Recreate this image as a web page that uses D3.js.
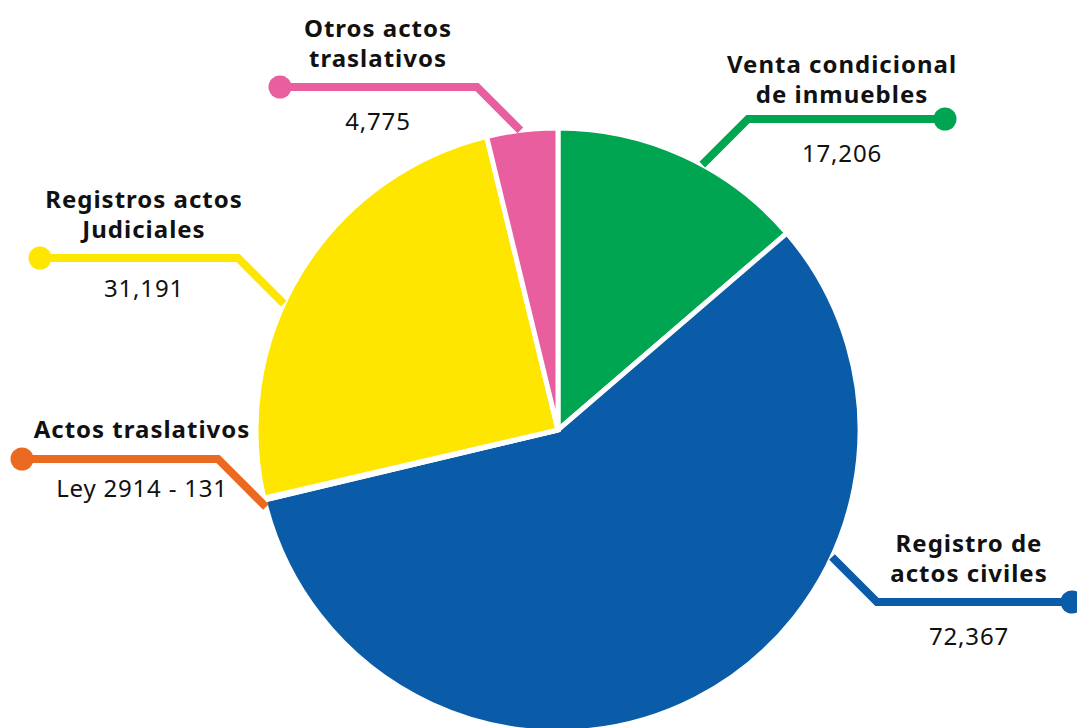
<!DOCTYPE html>
<html>
<head>
<meta charset="utf-8">
<script src="https://cdn.jsdelivr.net/npm/d3@7/dist/d3.min.js"></script>
<style>
  html, body { margin: 0; padding: 0; background: #ffffff; }
  svg { display: block; }
  text { font-family: "Noto Sans", "Open Sans", sans-serif; fill: #111111; }
</style>
</head>
<body>
<svg id="chart" width="1077" height="728"></svg>
<script>
// ---- data ----
const categories = [
  "Venta condicional de inmuebles",
  "Registro de actos civiles",
  "Actos traslativos Ley 2914",
  "Registros actos Judiciales",
  "Otros actos traslativos"
];
const values = [17206, 72367, 131, 31191, 4775];
const titleLines = [
  ["Venta condicional", "de inmuebles"],
  ["Registro de", "actos civiles"],
  ["Actos traslativos"],
  ["Registros actos", "Judiciales"],
  ["Otros actos", "traslativos"]
];
const valueLabels = ["17,206", "72,367", "Ley 2914 - 131", "31,191", "4,775"];
const colors = ["#00a551", "#0a5ba8", "#ea6a22", "#ffe600", "#e95e9f"];

// ---- layout (positions / styles only) ----
const W = 1077, H = 728;
const cx = 558, cy = 430, R = 302;
// leader: dot position, elbow position; label block centre x, title baseline, value baseline
const layout = [
  { dot: [945, 119], elbow: [748, 119], dir: [-1, 1], lx: 842, ty: 73, vy: 162 },
  { dot: [1072, 602], elbow: [877, 602], dir: [-1, -1], lx: 969, ty: 552, vy: 645 },
  { dot: [22, 459], elbow: [218, 459], dir: [1, 1], lx: 142, ty: 438, vy: 497 },
  { dot: [40, 258], elbow: [238, 258], dir: [1, 1], lx: 144, ty: 208, vy: 297 },
  { dot: [280, 87], elbow: [477, 87], dir: [1, 1], lx: 378, ty: 37, vy: 130 }
];

const svg = d3.select("#chart");
const g = svg.append("g").attr("transform", `translate(${cx},${cy})`);

const pie = d3.pie().sort(null).value(d => d)(values);
const arc = d3.arc().innerRadius(0).outerRadius(R);

g.selectAll("path.slice")
  .data(pie)
  .join("path")
  .attr("class", "slice")
  .attr("d", arc)
  .attr("fill", (d, i) => colors[i])
  .attr("stroke", "#ffffff")
  .attr("stroke-width", 5)
  .attr("stroke-linejoin", "miter");

// leader lines: from dot, to elbow, then 45° diagonal until the pie edge
function edgePoint(elbow, dir) {
  const ex = elbow[0] - cx, ey = elbow[1] - cy;
  const dx = dir[0], dy = dir[1];
  const a = dx * dx + dy * dy;
  const b = 2 * (ex * dx + ey * dy);
  const c = ex * ex + ey * ey - R * R;
  const t = (-b - Math.sqrt(b * b - 4 * a * c)) / (2 * a);
  return [elbow[0] + t * dx, elbow[1] + t * dy];
}

const leaders = svg.append("g");
layout.forEach((L, i) => {
  const end = edgePoint(L.elbow, L.dir);
  leaders.append("path")
    .attr("d", d3.line()([L.dot, L.elbow, end]))
    .attr("fill", "none")
    .attr("stroke", colors[i])
    .attr("stroke-width", 8)
    .attr("stroke-linejoin", "miter");
  leaders.append("circle")
    .attr("cx", L.dot[0]).attr("cy", L.dot[1])
    .attr("r", 11.5)
    .attr("fill", colors[i]);
});

const labels = svg.append("g");
layout.forEach((L, i) => {
  const t = labels.append("text")
    .attr("text-anchor", "middle")
    .attr("font-size", 24)
    .attr("font-weight", 700)
    .attr("letter-spacing", 1);
  titleLines[i].forEach((line, k) => {
    t.append("tspan").attr("x", L.lx).attr("y", L.ty + k * 30).text(line);
  });
  labels.append("text")
    .attr("x", L.lx).attr("y", L.vy)
    .attr("text-anchor", "middle")
    .attr("font-size", 24)
    .attr("letter-spacing", 0.8)
    .text(valueLabels[i]);
});
</script>
</body>
</html>
